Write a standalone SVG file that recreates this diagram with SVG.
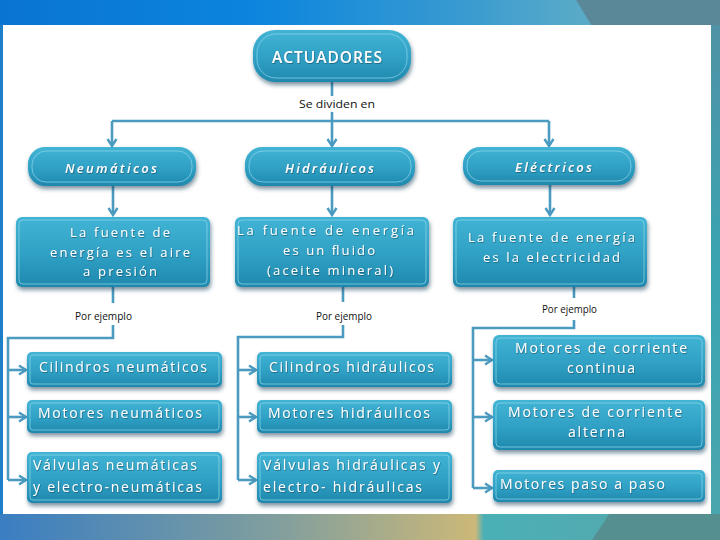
<svg xmlns="http://www.w3.org/2000/svg" width="720" height="540" viewBox="0 0 720 540">
  <defs>
    <linearGradient id="topBand" x1="0" y1="0" x2="1" y2="0">
      <stop offset="0" stop-color="#0a74d2"/>
      <stop offset="0.35" stop-color="#0b85de"/>
      <stop offset="0.65" stop-color="#3a9bd0"/>
      <stop offset="0.8" stop-color="#58aac8"/>
    </linearGradient>
    <linearGradient id="botBand" x1="0" y1="0" x2="1" y2="0">
      <stop offset="0" stop-color="#3a7ec2"/>
      <stop offset="0.4" stop-color="#84a09c"/>
      <stop offset="0.66" stop-color="#ccb878"/>
      <stop offset="0.672" stop-color="#4ab0b6"/>
      <stop offset="0.85" stop-color="#52aab0"/>
    </linearGradient>
    <linearGradient id="rightStrip" x1="0" y1="0" x2="0" y2="1">
      <stop offset="0" stop-color="#4f92a6"/>
      <stop offset="0.5" stop-color="#3aa4b0"/>
      <stop offset="1" stop-color="#4aa6ae"/>
    </linearGradient>
    <linearGradient id="nodeFill" x1="0" y1="0" x2="0" y2="1">
      <stop offset="0" stop-color="#42b4d4"/>
      <stop offset="0.55" stop-color="#2fa0c4"/>
      <stop offset="1" stop-color="#1f88ad"/>
    </linearGradient>
    <filter id="shadow" x="-10%" y="-20%" width="120%" height="150%">
      <feDropShadow dx="1" dy="3" stdDeviation="2" flood-color="#0b3a52" flood-opacity="0.55"/>
    </filter>
    <filter id="tshadow" x="-5%" y="-30%" width="110%" height="160%">
      <feDropShadow dx="0.6" dy="0.8" stdDeviation="0.5" flood-color="#0a3850" flood-opacity="0.6"/>
    </filter>
    <marker id="arr" markerUnits="userSpaceOnUse" markerWidth="12" markerHeight="12" refX="8" refY="5" orient="auto" viewBox="-1 -1 12 12">
      <path d="M1,0.5 L8,5 L1,9.5" fill="none" stroke="#4b9ac0" stroke-width="2.4" stroke-linejoin="miter"/>
    </marker>
    <style>
      .node { fill: url(#nodeFill); filter: url(#shadow); }
      .hl { fill: none; stroke: #8ad4ea; stroke-width: 1; opacity: 0.75; }
      .t { fill: #ffffff; font-family: "Open Sans", "Liberation Sans", sans-serif; font-size: 13px; filter: url(#tshadow); }
      .big { font-size: 15.5px; font-weight: 600; }
      .pill { font-size: 13px; font-style: italic; font-weight: 600; }
      .kid { font-size: 14px; }
      .lbl { fill: #111111; font-family: "Open Sans", "Liberation Sans", sans-serif; font-size: 10.5px; }
      .con { fill: none; stroke: #4b9ac0; stroke-width: 2.6; }
    </style>
  </defs>

  <!-- background frame -->
  <rect x="0" y="0" width="720" height="540" fill="#2f86c6"/>
  <rect x="0" y="0" width="720" height="26" fill="url(#topBand)"/>
  <polygon points="576,0 720,0 720,26 592,26" fill="#5a8898"/>
  <rect x="0" y="513" width="720" height="27" fill="url(#botBand)"/>
  <polygon points="610,513 720,513 720,540 592,540" fill="#558f8f"/>
  <rect x="0" y="25" width="4" height="489" fill="#1f7ec8"/>
  <rect x="711" y="25" width="9" height="489" fill="url(#rightStrip)"/>
  <rect x="3" y="25" width="708" height="489" fill="#ffffff"/>

  <!-- connectors -->
  <g id="connectors">
    <path class="con" d="M332,82 V96"/>
    <path class="con" d="M332,112 V146" marker-end="url(#arr)"/>
    <path class="con" d="M112,121 H549"/>
    <path class="con" d="M112,121 V146" marker-end="url(#arr)"/>
    <path class="con" d="M549,121 V146" marker-end="url(#arr)"/>
    <path class="con" d="M113,186 V215" marker-end="url(#arr)"/>
    <path class="con" d="M332,186 V215" marker-end="url(#arr)"/>
    <path class="con" d="M550,185 V215" marker-end="url(#arr)"/>

    <path class="con" d="M113,287 V303"/>
    <path class="con" d="M113,325 V338 H8 V480"/>
    <path class="con" d="M8,370 H26" marker-end="url(#arr)"/>
    <path class="con" d="M8,417 H26" marker-end="url(#arr)"/>
    <path class="con" d="M8,480 H26" marker-end="url(#arr)"/>

    <path class="con" d="M343,287 V302"/>
    <path class="con" d="M343,325 V337 H238 V480"/>
    <path class="con" d="M238,370 H256" marker-end="url(#arr)"/>
    <path class="con" d="M238,417 H256" marker-end="url(#arr)"/>
    <path class="con" d="M238,480 H256" marker-end="url(#arr)"/>

    <path class="con" d="M574,287 V298"/>
    <path class="con" d="M574,320 V328 H473 V488"/>
    <path class="con" d="M473,360 H492" marker-end="url(#arr)"/>
    <path class="con" d="M473,417 H492" marker-end="url(#arr)"/>
    <path class="con" d="M473,488 H492" marker-end="url(#arr)"/>
  </g>

  <!-- labels on connectors -->
  <text class="lbl" x="299" y="108" font-size="12.5" textLength="76" lengthAdjust="spacingAndGlyphs">Se dividen en</text>
  <text class="lbl" x="75" y="320" textLength="57" lengthAdjust="spacingAndGlyphs">Por ejemplo</text>
  <text class="lbl" x="316" y="320" textLength="56" lengthAdjust="spacingAndGlyphs">Por ejemplo</text>
  <text class="lbl" x="542" y="313" textLength="55" lengthAdjust="spacingAndGlyphs">Por ejemplo</text>

  <!-- root -->
  <g id="actuadores">
    <rect class="node" x="253" y="30" width="158" height="52" rx="22"/>
    <rect class="hl" x="257" y="34" width="150" height="44" rx="19"/>
    <text class="t big" x="272" y="63" textLength="110" lengthAdjust="spacing">ACTUADORES</text>
  </g>

  <!-- categories -->
  <g id="neumaticos">
    <rect class="node" x="28" y="147" width="168" height="39" rx="17"/>
    <rect class="hl" x="32" y="151" width="160" height="31" rx="14"/>
    <text class="t pill" x="65" y="173" textLength="92" lengthAdjust="spacing">Neumáticos</text>
  </g>
  <g id="hidraulicos">
    <rect class="node" x="245" y="147" width="170" height="39" rx="17"/>
    <rect class="hl" x="249" y="151" width="162" height="31" rx="14"/>
    <text class="t pill" x="285" y="173" textLength="89" lengthAdjust="spacing">Hidráulicos</text>
  </g>
  <g id="electricos">
    <rect class="node" x="463" y="147" width="172" height="38" rx="17"/>
    <rect class="hl" x="467" y="151" width="164" height="30" rx="14"/>
    <text class="t pill" x="515" y="172" textLength="77" lengthAdjust="spacing">Eléctricos</text>
  </g>

  <!-- energy source boxes -->
  <g id="fuente-neumaticos">
    <rect class="node" x="16" y="217" width="194" height="70" rx="6"/>
    <rect class="hl" x="19" y="220" width="188" height="64" rx="4"/>
    <text class="t" x="70" y="237" textLength="100" lengthAdjust="spacing">La fuente de</text>
    <text class="t" x="50" y="257" textLength="140" lengthAdjust="spacing">energía es el aire</text>
    <text class="t" x="83" y="276" textLength="74" lengthAdjust="spacing">a presión</text>
  </g>
  <g id="fuente-hidraulicos">
    <rect class="node" x="235" y="217" width="194" height="70" rx="6"/>
    <rect class="hl" x="238" y="220" width="188" height="64" rx="4"/>
    <text class="t" x="237" y="235" textLength="177" lengthAdjust="spacing">La fuente de energía</text>
    <text class="t" x="283" y="255" textLength="92" lengthAdjust="spacing">es un fluido</text>
    <text class="t" x="267" y="275" textLength="126" lengthAdjust="spacing">(aceite mineral)</text>
  </g>
  <g id="fuente-electricos">
    <rect class="node" x="453" y="217" width="194" height="70" rx="6"/>
    <rect class="hl" x="456" y="220" width="188" height="64" rx="4"/>
    <text class="t" x="468" y="242" textLength="167" lengthAdjust="spacing">La fuente de energía</text>
    <text class="t" x="483" y="262" textLength="137" lengthAdjust="spacing">es la electricidad</text>
  </g>

  <!-- neumaticos examples -->
  <g id="cilindros-neumaticos">
    <rect class="node" x="27" y="352" width="195" height="35" rx="5"/>
    <rect class="hl" x="30" y="355" width="189" height="29" rx="3"/>
    <text class="t kid" x="39" y="372" textLength="168" lengthAdjust="spacing">Cilindros neumáticos</text>
  </g>
  <g id="motores-neumaticos">
    <rect class="node" x="27" y="400" width="195" height="33" rx="5"/>
    <rect class="hl" x="30" y="403" width="189" height="27" rx="3"/>
    <text class="t kid" x="38" y="418" textLength="164" lengthAdjust="spacing">Motores neumáticos</text>
  </g>
  <g id="valvulas-neumaticas">
    <rect class="node" x="27" y="452" width="195" height="51" rx="5"/>
    <rect class="hl" x="30" y="455" width="189" height="45" rx="3"/>
    <text class="t kid" x="33" y="470" textLength="164" lengthAdjust="spacing">Válvulas neumáticas</text>
    <text class="t kid" x="33" y="492" textLength="169" lengthAdjust="spacing">y electro-neumáticas</text>
  </g>

  <!-- hidraulicos examples -->
  <g id="cilindros-hidraulicos">
    <rect class="node" x="257" y="352" width="195" height="35" rx="5"/>
    <rect class="hl" x="260" y="355" width="189" height="29" rx="3"/>
    <text class="t kid" x="269" y="372" textLength="165" lengthAdjust="spacing">Cilindros hidráulicos</text>
  </g>
  <g id="motores-hidraulicos">
    <rect class="node" x="257" y="400" width="195" height="33" rx="5"/>
    <rect class="hl" x="260" y="403" width="189" height="27" rx="3"/>
    <text class="t kid" x="268" y="418" textLength="162" lengthAdjust="spacing">Motores hidráulicos</text>
  </g>
  <g id="valvulas-hidraulicas">
    <rect class="node" x="257" y="452" width="195" height="51" rx="5"/>
    <rect class="hl" x="260" y="455" width="189" height="45" rx="3"/>
    <text class="t kid" x="263" y="470" textLength="177" lengthAdjust="spacing">Válvulas hidráulicas y</text>
    <text class="t kid" x="263" y="492" textLength="159" lengthAdjust="spacing">electro- hidráulicas</text>
  </g>

  <!-- electricos examples -->
  <g id="motores-cc">
    <rect class="node" x="493" y="335" width="212" height="52" rx="6"/>
    <rect class="hl" x="496" y="338" width="206" height="46" rx="4"/>
    <text class="t kid" x="515" y="353" textLength="172" lengthAdjust="spacing">Motores de corriente</text>
    <text class="t kid" x="567" y="373" textLength="68" lengthAdjust="spacing">continua</text>
  </g>
  <g id="motores-ca">
    <rect class="node" x="493" y="400" width="212" height="50" rx="6"/>
    <rect class="hl" x="496" y="403" width="206" height="44" rx="4"/>
    <text class="t kid" x="508" y="417" textLength="174" lengthAdjust="spacing">Motores de corriente</text>
    <text class="t kid" x="568" y="437" textLength="57" lengthAdjust="spacing">alterna</text>
  </g>
  <g id="motores-paso">
    <rect class="node" x="493" y="470" width="212" height="32" rx="5"/>
    <rect class="hl" x="496" y="473" width="206" height="26" rx="3"/>
    <text class="t kid" x="500" y="489" textLength="165" lengthAdjust="spacing">Motores paso a paso</text>
  </g>
</svg>
